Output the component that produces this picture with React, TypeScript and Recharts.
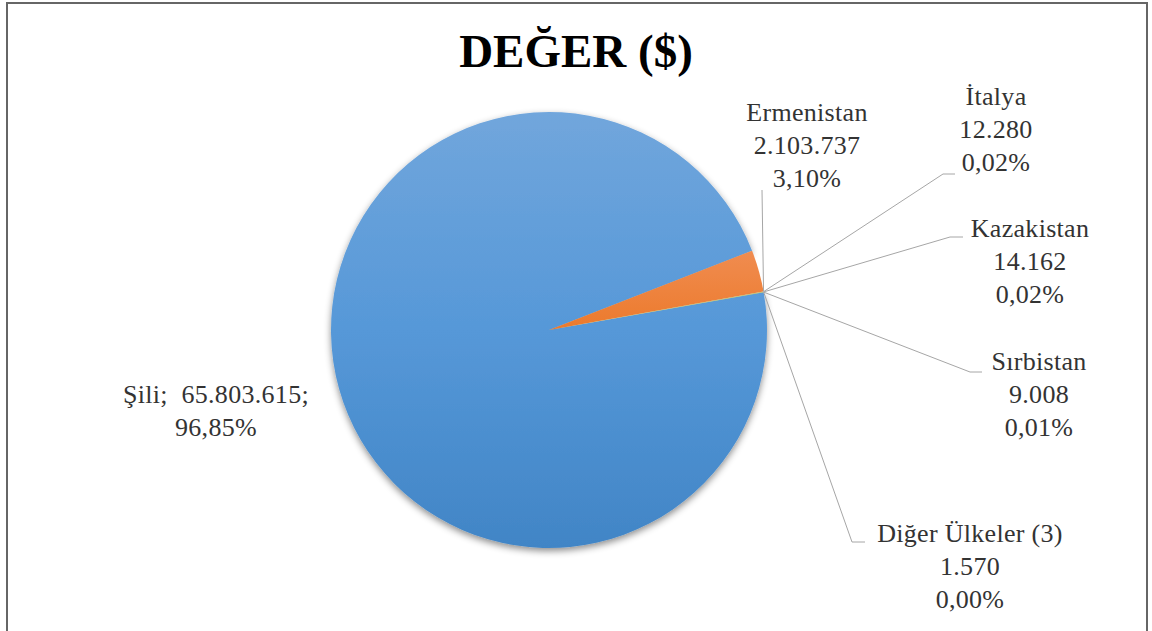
import { PieChart, Pie, Cell } from "recharts";

const countries = [
  "Şili",
  "Ermenistan",
  "İtalya",
  "Kazakistan",
  "Sırbistan",
  "Diğer Ülkeler (3)",
];
const values = [65803615, 2103737, 12280, 14162, 9008, 1570];
const colors = ["url(#blueFill)", "url(#orangeFill)", "#A5A5A5", "#FFC000", "#4472C4", "#70AD47"];

const data = countries.map((name, i) => ({ name, value: values[i] }));
const total = values.reduce((a, b) => a + b, 0);

// hand placed label boxes (like the manually dragged Excel labels)
// x = text center, y = first baseline, elbow = where the leader line bends
const LABEL_LAYOUT: { x: number; y: number; elbow?: [number, number][] }[] = [
  { x: 216, y: 403 },
  { x: 807, y: 121, elbow: [[762, 190]] },
  { x: 996, y: 105, elbow: [[955, 174], [943, 174]] },
  { x: 1030, y: 237, elbow: [[963, 237], [950, 237]] },
  { x: 1039, y: 370, elbow: [[982, 372], [970, 372]] },
  { x: 970, y: 542, elbow: [[865, 542], [852, 542]] },
];

const LINE_GAP = 33;
const RADIAN = Math.PI / 180;
const SERIF = "'Liberation Serif', 'Times New Roman', serif";

const fmtNum = (n: number) => String(n).replace(/\B(?=(\d{3})+(?!\d))/g, ".");
const fmtPct = (v: number) => ((v / total) * 100).toFixed(2).replace(".", ",") + "%";

const renderLabel = (props: any) => {
  const { cx, cy, outerRadius, endAngle, index, name, value } = props;
  const lay = LABEL_LAYOUT[index];
  const lines =
    index === 0
      ? [`${name};  ${fmtNum(value)};`, fmtPct(value)]
      : [name, fmtNum(value), fmtPct(value)];

  let leader = null;
  if (lay.elbow) {
    const px = cx + outerRadius * Math.cos(-endAngle * RADIAN);
    const py = cy + outerRadius * Math.sin(-endAngle * RADIAN);
    const pts = [...lay.elbow.map((p) => p.join(",")), `${px},${py}`].join(" ");
    leader = <polyline points={pts} fill="none" stroke="#A6A6A6" strokeWidth={1} />;
  }

  return (
    <g key={`lbl-${index}`}>
      {leader}
      <text
        x={lay.x}
        y={lay.y}
        textAnchor="middle"
        style={{
          fontFamily: SERIF,
          fontSize: 26,
          fill: "#333",
          whiteSpace: "pre",
          letterSpacing: 0.3,
        }}
      >
        {lines.map((t, i) => (
          <tspan key={i} x={lay.x} y={lay.y + i * LINE_GAP}>
            {t}
          </tspan>
        ))}
      </text>
    </g>
  );
};

export default function App() {
  return (
    <div
      style={{
        position: "absolute",
        left: 0,
        top: 0,
        width: 1152,
        height: 631,
        overflow: "hidden",
        background: "#fff",
        fontFamily: SERIF,
      }}
    >
      {/* outer frame, bottom edge is cut off in the source */}
      <div
        style={{
          position: "absolute",
          left: 6,
          top: 2,
          width: 1142,
          height: 700,
          border: "2px solid #666",
          boxSizing: "border-box",
        }}
      />
      <div
        style={{
          position: "absolute",
          left: 0,
          top: 28,
          width: 1152,
          textAlign: "center",
          fontWeight: "bold",
          fontSize: 47,
          lineHeight: "47px",
          color: "#000",
        }}
      >
        DEĞER ($)
      </div>
      <div style={{ position: "absolute", left: 0, top: 0 }}>
        <PieChart width={1152} height={631} margin={{ top: 0, right: 0, bottom: 0, left: 0 }}>
          <defs>
            <linearGradient id="blueFill" x1="0" y1="0" x2="0" y2="1">
              <stop offset="0%" stopColor="#71A6DC" />
              <stop offset="50%" stopColor="#5698D8" />
              <stop offset="100%" stopColor="#4185C6" />
            </linearGradient>
            <linearGradient id="orangeFill" x1="0" y1="0" x2="0" y2="1">
              <stop offset="0%" stopColor="#F08C50" />
              <stop offset="100%" stopColor="#EC7A2C" />
            </linearGradient>
            <filter id="pieShadow" x="-10%" y="-10%" width="120%" height="125%">
              <feDropShadow dx="0" dy="3" stdDeviation="3.5" floodColor="#000" floodOpacity="0.45" />
            </filter>
          </defs>
          <Pie
            data={data}
            dataKey="value"
            nameKey="name"
            cx={549}
            cy={330}
            outerRadius={218}
            startAngle={10}
            endAngle={-350}
            stroke="none"
            label={renderLabel}
            labelLine={false}
            isAnimationActive={false}
          >
            {data.map((entry, index) => (
              <Cell
                key={`cell-${index}`}
                fill={colors[index]}
                filter={index === 0 ? "url(#pieShadow)" : undefined}
              />
            ))}
          </Pie>
        </PieChart>
      </div>
    </div>
  );
}
